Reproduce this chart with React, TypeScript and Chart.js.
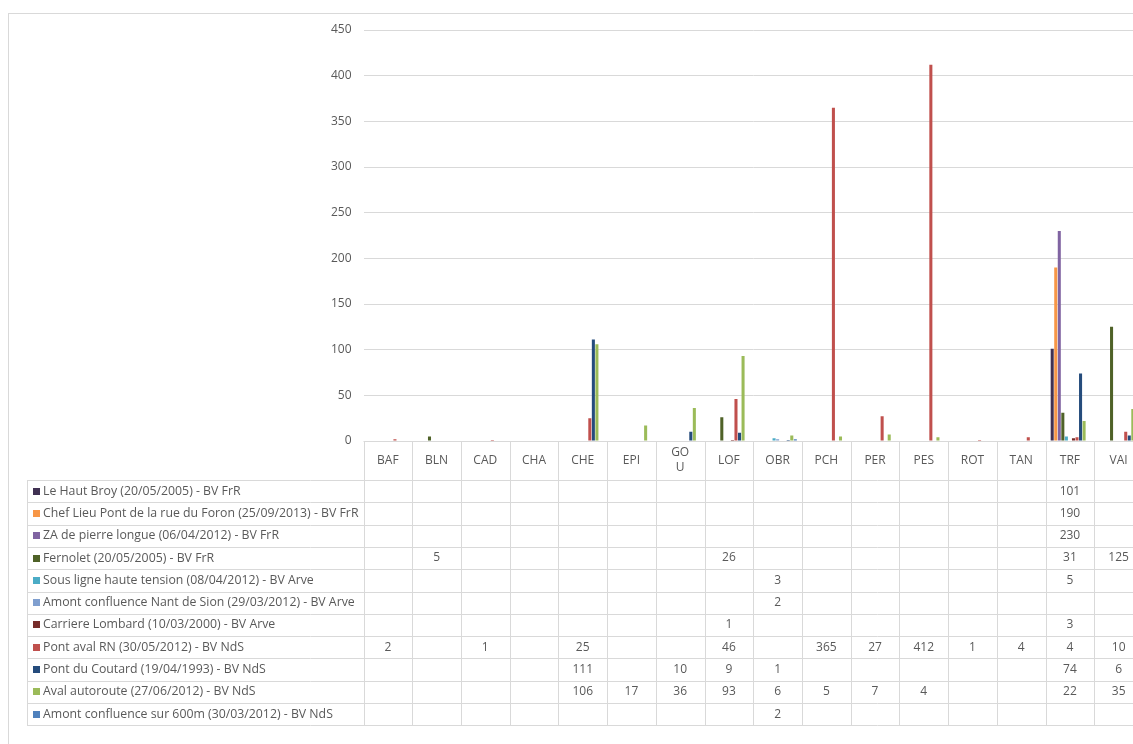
import React, { useEffect, useRef } from 'react';
import { Chart, registerables } from 'chart.js';

Chart.register(...registerables);

const categories = ['BAF', 'BLN', 'CAD', 'CHA', 'CHE', 'EPI', 'GO\nU', 'LOF', 'OBR', 'PCH', 'PER', 'PES', 'ROT', 'TAN', 'TRF', 'VAI'];

const seriesNames = [
  'Le Haut Broy (20/05/2005) - BV FrR',
  'Chef Lieu Pont de la rue du Foron (25/09/2013) - BV FrR',
  'ZA de pierre longue (06/04/2012) - BV FrR',
  'Fernolet (20/05/2005) - BV FrR',
  'Sous ligne haute tension (08/04/2012) - BV Arve',
  'Amont confluence Nant de Sion (29/03/2012) - BV Arve',
  'Carriere Lombard (10/03/2000) - BV Arve',
  'Pont aval RN (30/05/2012) - BV NdS',
  'Pont du Coutard (19/04/1993) - BV NdS',
  'Aval autoroute (27/06/2012) - BV NdS',
  'Amont confluence sur 600m (30/03/2012) - BV NdS',
];

const seriesColors = ['#403152', '#F79646', '#8064A2', '#4F6228', '#4BACC6', '#7F9FCF', '#772C2A', '#C0504D', '#254C7C', '#9BBB59', '#4F81BD'];

const _ = null;
//                       BAF BLN CAD CHA CHE  EPI GOU LOF OBR PCH  PER PES  ROT TAN TRF  VAI
const hautBroy =        [_,  _,  _,  _,  _,   _,  _,  _,  _,  _,   _,  _,   _,  _,  101, _];
const chefLieu =        [_,  _,  _,  _,  _,   _,  _,  _,  _,  _,   _,  _,   _,  _,  190, _];
const zaPierre =        [_,  _,  _,  _,  _,   _,  _,  _,  _,  _,   _,  _,   _,  _,  230, _];
const fernolet =        [_,  5,  _,  _,  _,   _,  _,  26, _,  _,   _,  _,   _,  _,  31,  125];
const sousLigne =       [_,  _,  _,  _,  _,   _,  _,  _,  3,  _,   _,  _,   _,  _,  5,   _];
const amontNant =       [_,  _,  _,  _,  _,   _,  _,  _,  2,  _,   _,  _,   _,  _,  _,   _];
const carriere =        [_,  _,  _,  _,  _,   _,  _,  1,  _,  _,   _,  _,   _,  _,  3,   _];
const pontAval =        [2,  _,  1,  _,  25,  _,  _,  46, _,  365, 27, 412, 1,  4,  4,   10];
const pontCoutard =     [_,  _,  _,  _,  111, _,  10, 9,  1,  _,   _,  _,   _,  _,  74,  6];
const avalAutoroute =   [_,  _,  _,  _,  106, 17, 36, 93, 6,  5,   7,  4,   _,  _,  22,  35];
const amont600 =        [_,  _,  _,  _,  _,   _,  _,  _,  2,  _,   _,  _,   _,  _,  _,   _];

const seriesValues = [hautBroy, chefLieu, zaPierre, fernolet, sousLigne, amontNant, carriere, pontAval, pontCoutard, avalAutoroute, amont600];

const yTicks = { min: 0, max: 450, step: 50 };

const FONT = '"Open Sans", "Noto Sans", sans-serif';
const TEXT = '#595959';
const LINE = '#D9D9D9';

const px = (v: number) => Math.round(v) + 0.5;

const tablePlugin = {
  id: 'dataTable',
  beforeDraw(chart: any) {
    const ctx = chart.ctx;
    ctx.save();
    ctx.fillStyle = '#FFFFFF';
    ctx.fillRect(0, 0, chart.width, chart.height);
    ctx.strokeStyle = LINE;
    ctx.lineWidth = 1;
    ctx.strokeRect(px(8), px(13), chart.width, chart.height);
    ctx.restore();
  },
  afterDraw(chart: any) {
    const ctx = chart.ctx;
    const xs = chart.scales.x;
    const area = chart.chartArea;
    const n = categories.length;
    const cw = (area.right - area.left) / n;
    const top = area.bottom;
    const headerH = 39;
    const rowH = 22.3;
    const legendLeft = 27;
    const rowsTop = top + headerH;
    const bottom = rowsTop + seriesNames.length * rowH;
    ctx.save();
    ctx.strokeStyle = LINE;
    ctx.lineWidth = 1;
    const line = (x1: number, y1: number, x2: number, y2: number) => {
      ctx.beginPath();
      ctx.moveTo(x1, y1);
      ctx.lineTo(x2, y2);
      ctx.stroke();
    };
    line(area.left, px(top), area.right + 20, px(top));
    for (let i = 0; i <= seriesNames.length; i++) {
      const y = px(rowsTop + i * rowH);
      line(legendLeft, y, area.right + 20, y);
    }
    line(px(legendLeft), rowsTop, px(legendLeft), bottom);
    for (let j = 0; j <= n; j++) {
      const c = xs.getPixelForValue(Math.min(j, n - 1));
      const x = j < n ? c - cw / 2 : c + cw / 2;
      line(px(x), top, px(x), bottom);
    }
    // header labels
    ctx.fillStyle = TEXT;
    ctx.font = `12px ${FONT}`;
    ctx.textAlign = 'center';
    ctx.textBaseline = 'middle';
    categories.forEach((cat, j) => {
      const c = xs.getPixelForValue(j);
      const parts = cat.split('\n');
      const lh = 15;
      const y0 = top + headerH / 2 - ((parts.length - 1) * lh) / 2;
      parts.forEach((p, k) => ctx.fillText(p, c, y0 + k * lh));
    });
    // rows
    seriesNames.forEach((name, i) => {
      const yc = rowsTop + i * rowH + rowH / 2;
      ctx.fillStyle = seriesColors[i];
      ctx.fillRect(33, Math.round(yc - 3.5), 7, 7);
      ctx.fillStyle = TEXT;
      ctx.textAlign = 'left';
      ctx.font = `12.3px ${FONT}`;
      ctx.fillText(name, 43, yc);
      ctx.textAlign = 'center';
      ctx.font = `12px ${FONT}`;
      seriesValues[i].forEach((v, j) => {
        if (v === null) return;
        ctx.fillText(String(v), xs.getPixelForValue(j), yc);
      });
    });
    ctx.restore();
  },
};

export default function App() {
  const ref = useRef<HTMLCanvasElement>(null);
  useEffect(() => {
    if (!ref.current) return;
    const chart = new Chart(ref.current, {
      type: 'bar',
      data: {
        labels: categories,
        datasets: seriesNames.map((name, i) => ({
          label: name,
          data: seriesValues[i] as any,
          backgroundColor: seriesColors[i],
          borderWidth: 0,
          categoryPercentage: 0.8,
          barPercentage: 0.86,
        })),
      },
      options: {
        animation: false,
        responsive: true,
        maintainAspectRatio: false,
        layout: { padding: { left: 0, top: 30, right: 17, bottom: 303 } },
        plugins: { legend: { display: false }, tooltip: { enabled: false } },
        scales: {
          x: { display: false },
          y: {
            min: yTicks.min,
            max: yTicks.max,
            border: { display: false },
            grid: { color: LINE, drawTicks: false, lineWidth: 1 },
            ticks: { stepSize: yTicks.step, padding: 12, color: TEXT, font: { family: FONT, size: 12 } },
            afterFit: (axis: any) => {
              axis.width = 363.5;
            },
          },
        },
      },
      plugins: [tablePlugin],
    });
    return () => chart.destroy();
  }, []);
  return (
    <div style={{ position: 'fixed', left: 0, top: 0, width: 1133, height: 744, overflow: 'hidden', background: '#fff' }}>
      <div style={{ position: 'relative', width: 1160, height: 744 }}>
        <canvas ref={ref} />
      </div>
    </div>
  );
}
